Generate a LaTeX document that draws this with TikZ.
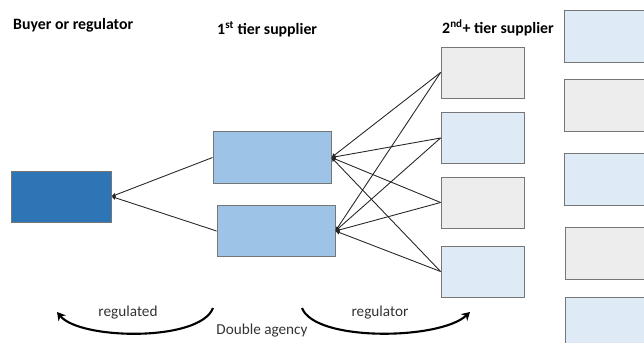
\documentclass[tikz,border=0pt]{standalone}
\usepackage{fontspec}
\setmainfont{Carlito}
\usepackage{tikz}
\usetikzlibrary{positioning,calc,arrows.meta}
\usepackage{xcolor}
\definecolor{buyerblue}{HTML}{2E75B6}
\definecolor{tieroneblue}{HTML}{9DC3E6}
\definecolor{paleblue}{HTML}{DEEBF7}
\definecolor{palegray}{HTML}{EDEDED}
\definecolor{boxedge}{HTML}{767676}

\begin{document}
\begin{tikzpicture}[
    x=0.03cm, y=-0.03cm,
    box/.style={rectangle, draw=boxedge, line width=0.7pt, inner sep=0},
    buyer/.style={box, fill=buyerblue, minimum width=3cm, minimum height=1.53cm},
    tierone/.style={box, fill=tieroneblue, minimum width=3.54cm, minimum height=1.54cm},
    tiertwo/.style={box, minimum width=2.49cm, minimum height=1.53cm},
    farbox/.style={box, minimum width=4cm, minimum height=1.56cm},
    link/.style={draw=black!85, line width=0.75pt, -{Latex[length=3.5pt,width=4pt]}},
    swing/.style={line width=1.8pt, -{Stealth[length=7pt,width=8pt]}},
    heading/.style={font=\fontsize{13.5}{15}\selectfont\bfseries, anchor=west, inner sep=0},
    caption/.style={font=\fontsize{13}{15}\selectfont, text=black!80, inner sep=0}
]
    \useasboundingbox (0,0) rectangle (644,343);
    \clip (0,0) rectangle (644,343);

    % Column headings
    \node[heading] (hbuyer) at (13,25) {Buyer or regulator};
    \node[heading] (hone) at (217,29) {1\textsuperscript{st} tier supplier};
    \node[heading] (htwo) at (442,28) {2\textsuperscript{nd}+ tier supplier};

    % Buyer and 1st tier
    \node[buyer] (buyer) at (61,196.5) {};
    \node[tierone] (t1a) at (272,157.5) {};
    \node[tierone] (t1b) at (276,231) {};

    % 2nd+ tier
    \node[tiertwo, fill=palegray] (t2a) at (482.5,72.5) {};
    \node[tiertwo, fill=paleblue] (t2b) at (482.5,138) {};
    \node[tiertwo, fill=palegray] (t2c) at (482.5,202.5) {};
    \node[tiertwo, fill=paleblue] (t2d) at (482.5,271.5) {};

    % Further tiers (cut off at the edge)
    \node[farbox, fill=paleblue, anchor=west] (far1) at (564,36) {};
    \node[farbox, fill=palegray, anchor=west] (far2) at (564,105) {};
    \node[farbox, fill=paleblue, anchor=west] (far3) at (564,179.5) {};
    \node[farbox, fill=palegray, anchor=west] (far4) at (565,253) {};
    \node[farbox, fill=paleblue, anchor=west] (far5) at (565,323) {};

    % Connections
    \draw[link] (t1a.west) -- (buyer.east);
    \draw[link] (t1b.west) -- (buyer.east);
    \foreach \s in {t2a,t2b,t2c,t2d} {
        \draw[link] (\s.west) -- (t1a.east);
        \draw[link] (\s.west) -- (t1b.east);
    }

    % Agency arcs
    \coordinate (ledstart) at (213,308);
    \coordinate (ledend) at (57,312);
    \coordinate (lorstart) at (302,308);
    \coordinate (lorend) at (470,312);
    \draw[swing] (ledstart) .. controls (200,342) and (80,340) .. (ledend);
    \draw[swing] (lorstart) .. controls (315,342) and (440,340) .. (lorend);

    \node[caption] (led) at (128,313) {regulated};
    \node[caption] (lor) at (380,313) {regulator};
    \node[caption] (dbl) at (262,331) {Double agency};
\end{tikzpicture}
\end{document}
